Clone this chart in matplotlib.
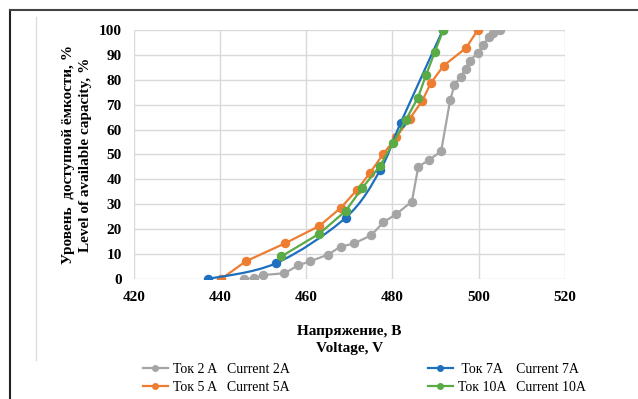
import numpy as np
import matplotlib.pyplot as plt
from matplotlib.path import Path
from matplotlib.patches import PathPatch
from matplotlib.lines import Line2D

plt.rcParams['font.family'] = ['Liberation Serif', 'DejaVu Serif']

# Data (voltage, V / available capacity, %)
v_2a = [445.5, 447.9, 450.0, 454.9, 458.1, 460.9, 465.0, 468.0, 471.1, 475.0,
        477.9, 480.9, 484.5, 486.0, 488.5, 491.3, 493.4, 494.4, 495.9, 497.0,
        497.9, 499.8, 501.0, 502.4, 503.3, 504.9]
c_2a = [0, 0.3, 1.6, 2.3, 5.5, 7.1, 9.8, 13.0, 14.3, 17.5,
        22.8, 26.1, 31.1, 45.1, 47.8, 51.3, 71.8, 77.9, 81.3, 84.5,
        87.7, 90.6, 93.8, 97.1, 98.7, 100]

v_5a = [440.2, 445.9, 455.0, 463.0, 468.0, 471.8, 474.8, 477.8, 480.9, 484.0,
        486.9, 488.9, 491.9, 497.1, 499.8]
c_5a = [0, 7.1, 14.3, 21.3, 28.6, 35.9, 42.7, 50.1, 57.0, 64.4,
        71.5, 78.7, 85.7, 92.8, 100]

v_7a = [437.1, 452.9, 469.1, 477.1, 481.9, 491.7]
c_7a = [0, 6.3, 24.6, 43.6, 62.7, 100]

v_10a = [454.2, 463.0, 469.1, 472.9, 477.1, 480.1, 483.1, 485.9, 487.8, 489.8, 491.8]
c_10a = [9.1, 18.2, 27.3, 36.4, 45.4, 54.5, 63.9, 72.8, 81.9, 91.0, 100]

labels = ['Ток 2 A   Current 2A', 'Ток 5 A   Current 5A',
          ' Ток 7A    Current 7A', 'Ток 10A   Current 10A']
colors = ['#A5A5A5', '#ED7D31', '#1F6FBF', '#5AAA46']


def smooth_path(x, y):
    # Excel-style smoothed line: Bezier segments through the points
    pts = np.column_stack([x, y])
    verts = [pts[0]]
    codes = [Path.MOVETO]
    n = len(pts)
    for i in range(n - 1):
        p0 = pts[max(i - 1, 0)]
        p1 = pts[i]
        p2 = pts[i + 1]
        p3 = pts[min(i + 2, n - 1)]
        verts += [p1 + (p2 - p0) / 6, p2 - (p3 - p1) / 6, p2]
        codes += [Path.CURVE4] * 3
    return Path(verts, codes)


fig = plt.figure(figsize=(6.38, 3.99), dpi=100)
ax = fig.add_axes([0.2105, 0.3008, 0.6745, 0.624])

ms = 5.8
lw = 1.6
ax.plot(v_2a, c_2a, color=colors[0], marker='o', ms=ms, lw=lw, zorder=3)
ax.plot(v_5a, c_5a, color=colors[1], marker='o', ms=ms, lw=lw, zorder=4)
ax.add_patch(PathPatch(smooth_path(v_7a, c_7a), fc='none', ec=colors[2], lw=lw, zorder=5))
ax.plot(v_7a, c_7a, color=colors[2], marker='o', ms=ms, lw=0, zorder=5)
ax.plot(v_10a, c_10a, color=colors[3], marker='o', ms=ms, lw=lw, zorder=6)

ax.set_xlim(420, 520)
ax.set_ylim(0, 100)
ax.set_xticks(range(420, 521, 20))
ax.set_yticks(range(0, 101, 10))
ax.grid(True, color='#D9D9D9', lw=1)
ax.set_axisbelow(True)
for s in ax.spines.values():
    s.set_visible(False)
ax.tick_params(length=0, labelsize=11, pad=9)
for t in ax.get_xticklabels() + ax.get_yticklabels():
    t.set_fontweight('bold')

ax.set_xlabel('Напряжение, В\nVoltage, V', fontsize=11, fontweight='bold',
              labelpad=15, linespacing=1.4)
ax.set_ylabel('Уровень  доступной ёмкости, %\nLevel of available capacity, %',
              fontsize=11, fontweight='bold', labelpad=5, linespacing=1.4)

handles = [Line2D([], [], color=c, marker='o', ms=4, lw=lw) for c in colors]
fig.legend(handles, labels, ncol=2, loc='upper left', bbox_to_anchor=(0.215, 0.105),
           frameon=False, fontsize=10, handlelength=1.8, handletextpad=0.35,
           columnspacing=9.95, labelspacing=0.4, borderaxespad=0)

# page frame lines
fig.add_artist(Line2D([9.5 / 638, 9.5 / 638], [0, 1 - 10 / 399], color='#222222', lw=1.5))
fig.add_artist(Line2D([9.5 / 638, 1], [1 - 10 / 399, 1 - 10 / 399], color='#444444', lw=1.5))
fig.add_artist(Line2D([36 / 638, 36 / 638], [1 - 360 / 399, 1 - 17 / 399], color='#DDDDDD', lw=1))

fig.savefig('out.png', dpi=100)
